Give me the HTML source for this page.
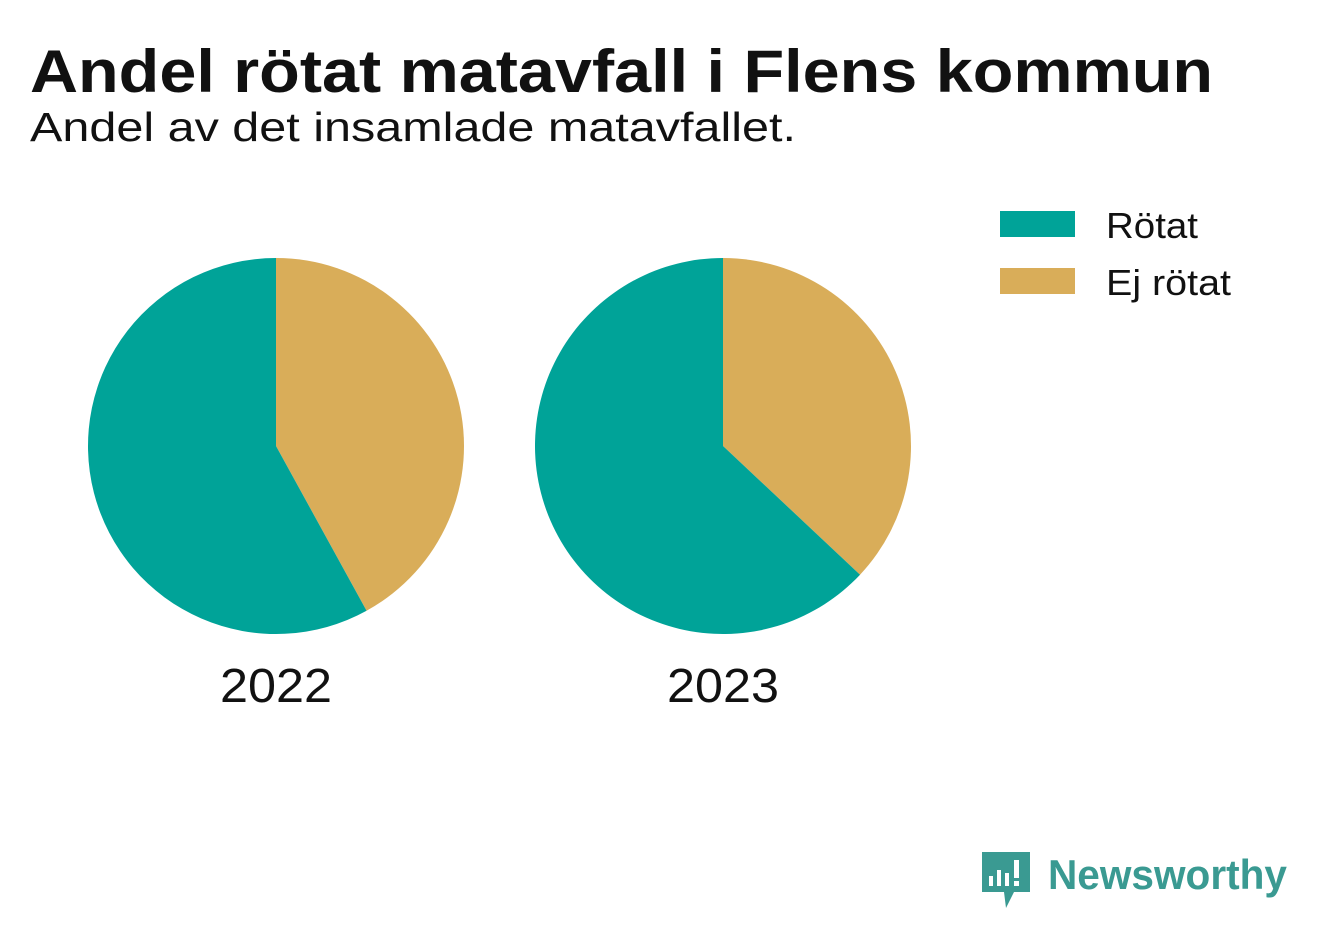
<!DOCTYPE html>
<html><head><meta charset="utf-8"><style>
body{margin:0;width:1322px;height:939px;background:#fff;font-family:"Liberation Sans",sans-serif;overflow:hidden;position:relative}
</style></head><body>
<svg id="chart" width="1322" height="939" style="position:absolute;left:0;top:0" font-family="Liberation Sans, sans-serif">
<text x="30" y="92" font-size="60" font-weight="bold" fill="#111" textLength="1183" lengthAdjust="spacingAndGlyphs">Andel rötat matavfall i Flens kommun</text>
<text x="30" y="141" font-size="41" fill="#111" textLength="766" lengthAdjust="spacingAndGlyphs">Andel av det insamlade matavfallet.</text>
<g>
<rect x="1000" y="211" width="75" height="26" fill="#00a398"/>
<text x="1106" y="238" font-size="36" fill="#111" textLength="92" lengthAdjust="spacingAndGlyphs">Rötat</text>
<rect x="1000" y="268" width="75" height="26" fill="#d9ad59"/>
<text x="1106" y="295" font-size="36" fill="#111" textLength="125" lengthAdjust="spacingAndGlyphs">Ej rötat</text>
</g>
<g>
<path d="M982 852 h48 v40 h-16 l-8 16 l-2 -16 h-22 z" fill="#3a9a92"/>
<rect x="989" y="876" width="4" height="10" fill="#fff"/><rect x="997" y="870" width="4" height="16" fill="#fff"/><rect x="1005" y="873" width="4" height="13" fill="#fff"/><rect x="1014" y="860" width="5" height="18" fill="#fff"/><rect x="1014" y="881" width="5" height="5" fill="#fff"/>
<text x="1048" y="889" font-size="42" font-weight="bold" fill="#3a9a92" textLength="239" lengthAdjust="spacingAndGlyphs">Newsworthy</text>
</g>
</svg>
<script>
const years=["2022","2023"];
const rotat=[58,63];
const ejRotat=[42,37];
const svg=document.getElementById('chart');
const NS='http://www.w3.org/2000/svg';
const centersX=[276,723], cy=446, R=188;
function pt(cx,frac){const a=frac*2*Math.PI;return [cx+R*Math.sin(a),cy-R*Math.cos(a)];}
function slice(cx,f0,f1,color,name){
 const p=document.createElementNS(NS,'path');
 const [x0,y0]=pt(cx,f0),[x1,y1]=pt(cx,f1);
 const large=(f1-f0)>0.5?1:0;
 p.setAttribute('d',`M${cx} ${cy} L${x0} ${y0} A${R} ${R} 0 ${large} 1 ${x1} ${y1} Z`);
 p.setAttribute('fill',color);
 
 
 svg.appendChild(p);
}
years.forEach((y,i)=>{
 const cx=centersX[i];
 const tot=rotat[i]+ejRotat[i];
 const g=ejRotat[i]/tot;
 slice(cx,0,g,'#d9ad59','slice-ej-rotat-'+y);
 slice(cx,g,1,'#00a398','slice-rotat-'+y);
 const t=document.createElementNS(NS,'text');
 t.setAttribute('x',cx);t.setAttribute('y',702);
 t.setAttribute('text-anchor','middle');t.setAttribute('font-size','48');t.setAttribute('fill','#111');
 t.setAttribute('textLength','112');t.setAttribute('lengthAdjust','spacingAndGlyphs');
 t.textContent=y;
 
 
 svg.appendChild(t);
});
</script>
</body></html>
